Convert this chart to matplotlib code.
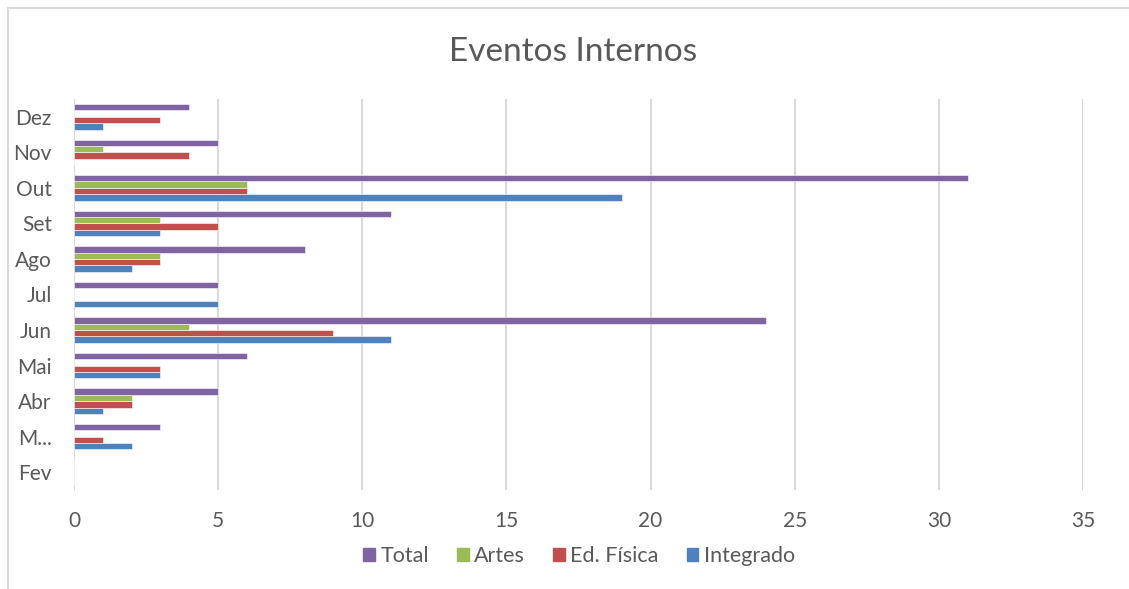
import matplotlib
matplotlib.use("Agg")
import matplotlib.pyplot as plt
import numpy as np
from matplotlib.patches import Rectangle, Patch

months = ["Fev", "M...", "Abr", "Mai", "Jun", "Jul", "Ago", "Set", "Out", "Nov", "Dez"]
integrado = [0, 2, 1, 3, 11, 5, 2, 3, 19, 0, 1]
ed_fisica = [0, 1, 2, 3, 9, 0, 3, 5, 6, 4, 3]
artes = [0, 0, 2, 0, 4, 0, 3, 3, 6, 1, 0]
total = [0, 3, 5, 6, 24, 5, 8, 11, 31, 5, 4]
xticks = [0, 5, 10, 15, 20, 25, 30, 35]

series = [("Integrado", integrado, "#4F81BD"),
          ("Ed. Física", ed_fisica, "#C0504D"),
          ("Artes", artes, "#9BBB59"),
          ("Total", total, "#8064A2")]

plt.rcParams['font.family'] = ['Lato', 'DejaVu Sans']
txt = "#595959"

fig = plt.figure(figsize=(11.29, 5.89), dpi=100)
fig.patches.append(Rectangle((8/1129, -0.01), 1.2, 1 - 8/589 + 0.01, transform=fig.transFigure,
                             fill=False, edgecolor="#D9D9D9", linewidth=1.5))
ax = fig.add_axes([74/1129, 1 - 490/589, (1083 - 74)/1129, (490 - 99)/589])

y = np.arange(len(months))
h = 0.18
offsets = [-1.5 * h, -0.5 * h, 0.5 * h, 1.5 * h]
handles = {}
for (name, vals, col), off in zip(series, offsets):
    ax.barh(y + off, vals, height=h, color=col, edgecolor="white", linewidth=0.4, zorder=3)
    handles[name] = Patch(facecolor=col, edgecolor=col)

ax.set_xlim(0, 35)
ax.set_ylim(-0.5, len(months) - 0.5)
ax.set_xticks(xticks)
ax.set_yticks(y)
ax.set_yticklabels(months)
ax.xaxis.grid(True, color="#D9D9D9", linewidth=1.5, zorder=0)
ax.set_axisbelow(True)
for s in ax.spines.values():
    s.set_visible(False)
ax.tick_params(axis="both", length=0, colors=txt, labelsize=15)
ax.tick_params(axis="x", pad=15)
ax.tick_params(axis="y", pad=16)

fig.text(573/1129, 1 - 52/589, "Eventos Internos", ha="center", va="center",
         fontsize=24, color=txt)

order = ["Total", "Artes", "Ed. Física", "Integrado"]
leg = fig.legend([handles[n] for n in order], order, loc="center",
                 bbox_to_anchor=(579/1129, 1 - 556/589), ncol=4, frameon=False,
                 fontsize=15.5, handlelength=0.55, handleheight=0.55, handletextpad=0.25,
                 columnspacing=1.3, labelcolor=txt)

fig.savefig("out.png", dpi=100, facecolor="white")
